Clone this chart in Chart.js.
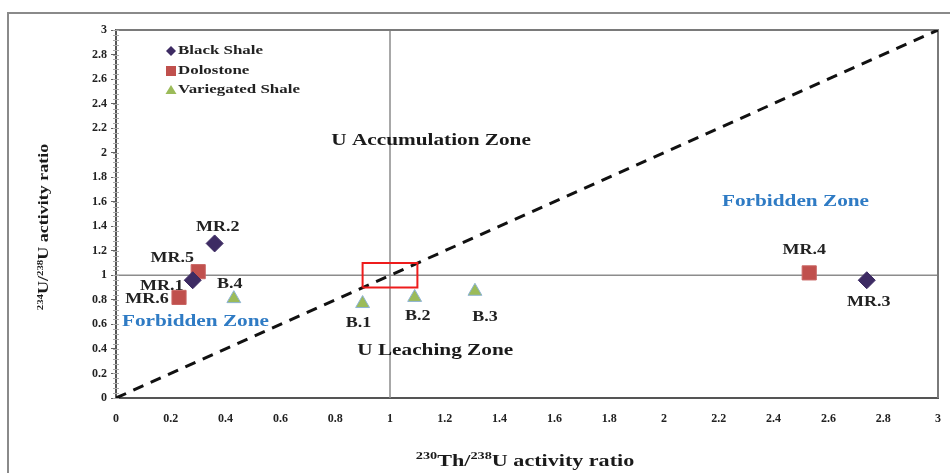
<!DOCTYPE html>
<html>
<head>
<meta charset="utf-8">
<script src="https://cdn.jsdelivr.net/npm/chart.js@4.4.1/dist/chart.umd.min.js"></script>
<style>
  html, body { margin: 0; padding: 0; background: #fff; }
  #wrap { width: 950px; height: 473px; }
</style>
</head>
<body>
<div id="wrap"><canvas id="chart" width="950" height="473"></canvas></div>
<script>
// data
const blackShaleX = [0.28, 0.36, 2.74];
const blackShaleY = [0.96, 1.26, 0.96];
const blackShaleNames = ["MR.1", "MR.2", "MR.3"];

const dolostoneX = [0.30, 2.53, 0.23];
const dolostoneY = [1.03, 1.02, 0.82];
const dolostoneNames = ["MR.5", "MR.4", "MR.6"];

const variegatedX = [0.90, 1.09, 1.31, 0.43];
const variegatedY = [0.77, 0.82, 0.87, 0.81];
const variegatedNames = ["B.1", "B.2", "B.3", "B.4"];

const equilineX = [0, 3];
const equilineY = [0, 3];
const boxX = [0.9, 1.1, 1.1, 0.9, 0.9];
const boxY = [0.9, 0.9, 1.1, 1.1, 0.9];

const zoneNames = ["U Accumulation Zone", "Forbidden Zone", "Forbidden Zone", "U Leaching Zone"];
const zoneX = [1.15, 2.48, 0.29, 1.165];
const zoneY = [2.10, 1.60, 0.62, 0.39];

const axisMin = 0, axisMax = 3, axisStep = 0.2;

// label offsets in px (name -> [dx, dy])
const labelOffset = {
  "MR.1": [-31, 6], "MR.2": [3, -16], "MR.3": [2, 22], "MR.4": [-5, -23],
  "MR.5": [-26, -14], "MR.6": [-32, 2],
  "B.1": [-4, 20], "B.2": [3, 19], "B.3": [10, 26], "B.4": [-4, -15]
};

const serif = "'Liberation Serif', 'Times New Roman', serif";
const purple = "#3d2b63";
const red = "#c0504d";
const green = "#9bbb59";
const blue = "#2f7bc4";
const wide = 1.25; // the source text is drawn wide

function pts(xs, ys) { return xs.map((x, i) => ({ x: x, y: ys[i] })); }

// text stretched horizontally around its anchor
function wideText(c, text, x, y, sx, align) {
  c.save();
  c.translate(x, y);
  c.scale(sx, 1);
  c.textAlign = align || "center";
  c.fillText(text, 0, 0);
  c.restore();
}

const frame = {
  id: "frame",
  beforeDraw(chart) {
    const c = chart.ctx;
    c.save();
    c.fillStyle = "#fff";
    c.fillRect(0, 0, chart.width, chart.height);
    c.strokeStyle = "#8a8a8a";
    c.lineWidth = 2;
    c.strokeRect(8, 13, 1000, 1000);
    c.restore();
  },
  beforeDatasetsDraw(chart) {
    const c = chart.ctx, a = chart.chartArea;
    const xs = chart.scales.x, ys = chart.scales.y;
    c.save();
    // reference lines at ratio 1
    c.strokeStyle = "#8c8c8c";
    c.lineWidth = 1.5;
    c.beginPath();
    c.moveTo(xs.getPixelForValue(1), a.top);
    c.lineTo(xs.getPixelForValue(1), a.bottom);
    c.moveTo(a.left, ys.getPixelForValue(1));
    c.lineTo(a.right, ys.getPixelForValue(1));
    c.stroke();
    // top / right border
    c.strokeStyle = "#7a7a7a";
    c.lineWidth = 2;
    c.beginPath();
    c.moveTo(a.left, a.top);
    c.lineTo(a.right, a.top);
    c.lineTo(a.right, a.bottom);
    c.stroke();
    // minor ticks on y axis
    c.strokeStyle = "#aaa";
    c.lineWidth = 1;
    c.beginPath();
    for (let v = 0; v <= 3.0001; v += 0.04) {
      const py = Math.round(ys.getPixelForValue(v)) + 0.5;
      c.moveTo(a.left - 3, py);
      c.lineTo(a.left + 3, py);
    }
    c.stroke();
    c.restore();
  },
  afterDraw(chart) {
    const c = chart.ctx;
    const xs = chart.scales.x, ys = chart.scales.y;
    c.save();
    c.textBaseline = "middle";

    // point labels
    c.font = "bold 15px " + serif;
    c.fillStyle = "#222";
    const groups = [[blackShaleX, blackShaleY, blackShaleNames], [dolostoneX, dolostoneY, dolostoneNames], [variegatedX, variegatedY, variegatedNames]];
    groups.forEach(g => {
      g[2].forEach((name, i) => {
        const o = labelOffset[name];
        wideText(c, name, xs.getPixelForValue(g[0][i]) + o[0], ys.getPixelForValue(g[1][i]) + o[1], 1.2);
      });
    });

    // zone names
    c.font = "bold 17px " + serif;
    zoneNames.forEach((name, i) => {
      c.fillStyle = name === "Forbidden Zone" ? blue : "#1a1a1a";
      wideText(c, name, xs.getPixelForValue(zoneX[i]), ys.getPixelForValue(zoneY[i]), wide);
    });

    // legend
    const lx = 171, ly = [51, 71, 90];
    c.font = "bold 13px " + serif;
    c.fillStyle = "#222";
    wideText(c, "Black Shale", 178, ly[0], 1.3, "left");
    wideText(c, "Dolostone", 178, ly[1], 1.3, "left");
    wideText(c, "Variegated Shale", 178, ly[2], 1.3, "left");
    c.fillStyle = purple;
    c.beginPath();
    c.moveTo(lx - 5, ly[0]); c.lineTo(lx, ly[0] - 5); c.lineTo(lx + 5, ly[0]); c.lineTo(lx, ly[0] + 5);
    c.closePath(); c.fill();
    c.fillStyle = red;
    c.fillRect(lx - 5, ly[1] - 5, 10, 10);
    c.fillStyle = green;
    c.beginPath();
    c.moveTo(lx, ly[2] - 5); c.lineTo(lx + 5.5, ly[2] + 4); c.lineTo(lx - 5.5, ly[2] + 4);
    c.closePath(); c.fill();

    // axis titles with superscripts
    c.save();
    c.translate(525, 460);
    c.scale(1.3, 1);
    drawRich(c, [["230", true], ["Th/", false], ["238", true], ["U activity ratio", false]], 0, 0, 17);
    c.restore();
    c.save();
    c.translate(43, 227);
    c.rotate(-Math.PI / 2);
    c.scale(1.2, 1);
    drawRich(c, [["234", true], ["U/", false], ["238", true], ["U activity ratio", false]], 0, 0, 15);
    c.restore();
    c.restore();
  }
};

function drawRich(c, parts, cx, cy, size) {
  const big = "bold " + size + "px " + serif;
  const small = "bold " + Math.round(size * 0.62) + "px " + serif;
  let total = 0;
  parts.forEach(p => { c.font = p[1] ? small : big; total += c.measureText(p[0]).width; });
  let x = cx - total / 2;
  c.textAlign = "left";
  c.textBaseline = "alphabetic";
  c.fillStyle = "#1a1a1a";
  parts.forEach(p => {
    c.font = p[1] ? small : big;
    c.fillText(p[0], x, cy + size * 0.35 - (p[1] ? size * 0.38 : 0));
    x += c.measureText(p[0]).width;
  });
}

const tickFont = { family: serif, size: 12, weight: "bold" };
const fmt = v => String(Math.round(v * 10) / 10);

new Chart(document.getElementById("chart"), {
  type: "scatter",
  data: {
    datasets: [
      { label: "Black Shale", data: pts(blackShaleX, blackShaleY), pointStyle: "rectRot", pointRadius: 8.5, backgroundColor: purple, borderColor: purple, borderWidth: 1 },
      { label: "Dolostone", data: pts(dolostoneX, dolostoneY), pointStyle: "rect", pointRadius: 10, backgroundColor: red, borderColor: "#c96563", borderWidth: 1 },
      { label: "Variegated Shale", data: pts(variegatedX, variegatedY), pointStyle: "triangle", pointRadius: 8, backgroundColor: green, borderColor: "#8db3d6", borderWidth: 1 },
      { label: "equiline", type: "line", data: pts(equilineX, equilineY), borderColor: "#111", borderWidth: 3, borderDash: [11, 8], pointRadius: 0, fill: false, order: 5 },
      { label: "box", type: "line", data: pts(boxX, boxY), borderColor: "#ee1c1c", borderWidth: 2, pointRadius: 0, fill: false, tension: 0, order: 4 }
    ]
  },
  options: {
    responsive: false,
    animation: false,
    events: [],
    layout: { padding: { top: 30, right: 12, left: 0, bottom: 0 } },
    plugins: { legend: { display: false }, tooltip: { enabled: false } },
    scales: {
      x: {
        type: "linear", min: axisMin, max: axisMax,
        grid: { display: false },
        border: { display: true, color: "#555", width: 2 },
        ticks: { stepSize: axisStep, color: "#222", font: tickFont, padding: 6, callback: fmt, maxRotation: 0, autoSkip: false },
        afterFit(s) { s.height = 75; }
      },
      y: {
        type: "linear", min: axisMin, max: axisMax,
        grid: { display: true, drawOnChartArea: false, drawTicks: true, tickLength: 5, color: "#666" },
        border: { display: true, color: "#555", width: 2 },
        ticks: { stepSize: axisStep, color: "#222", font: tickFont, padding: 4, callback: fmt, autoSkip: false },
        afterFit(s) { s.width = 116; }
      }
    }
  },
  plugins: [frame]
});
</script>
</body>
</html>
